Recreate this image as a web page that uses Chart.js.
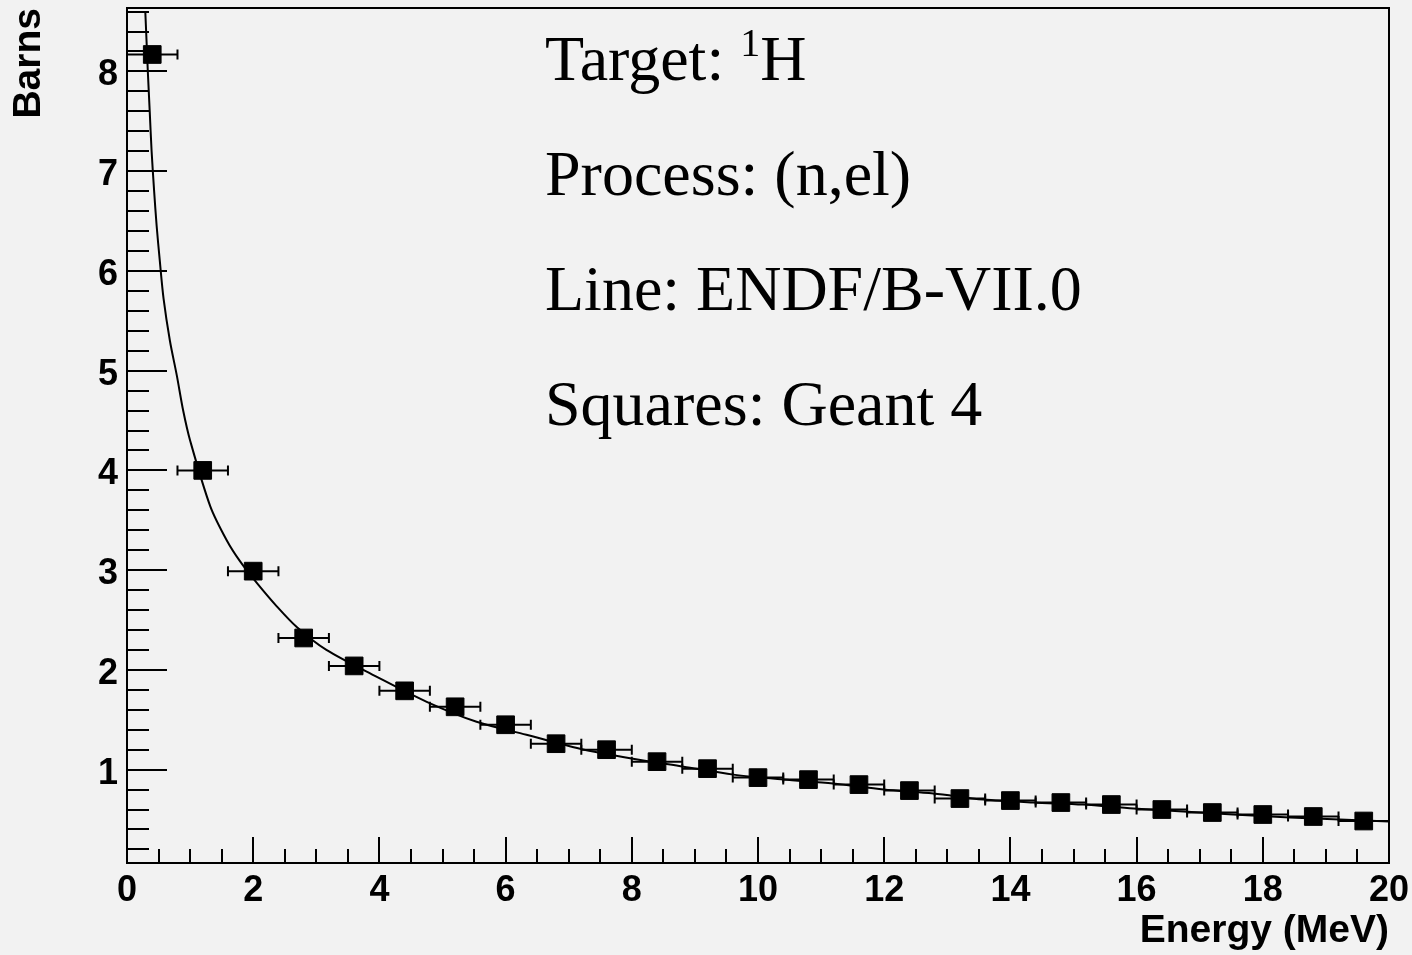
<!DOCTYPE html>
<html>
<head>
<meta charset="utf-8">
<title>Target 1H (n,el) cross section</title>
<script src="https://cdn.jsdelivr.net/npm/chart.js@4/dist/chart.umd.min.js"></script>
<style>
    html, body { margin: 0; padding: 0; background: #f2f2f2; }
    #wrap { width: 1412px; height: 955px; position: relative; }
</style>
</head>
<body>
<div id="wrap"><canvas id="xsChart"></canvas></div>
<script>
// Geant 4 squares (bin centres, MeV) and cross section (barns)
const binCenters = [0.4, 1.2, 2.0, 2.8, 3.6, 4.4, 5.2, 6.0, 6.8, 7.6, 8.4, 9.2, 10.0,
    10.8, 11.6, 12.4, 13.2, 14.0, 14.8, 15.6, 16.4, 17.2, 18.0, 18.8, 19.6];
const geantXsec = [8.17, 4.00, 2.99, 2.32, 2.04, 1.79, 1.63, 1.45, 1.26, 1.20, 1.08, 1.01, 0.92,
    0.90, 0.85, 0.79, 0.71, 0.69, 0.67, 0.65, 0.60, 0.57, 0.55, 0.53, 0.485];
const binHalfWidth = 0.4;

// ENDF/B-VII.0 line
const endfEnergy = [0.29, 0.31, 0.33, 0.36, 0.39, 0.43, 0.47, 0.52, 0.58, 0.68, 0.79, 0.89, 1.0,
    1.32, 1.58, 1.79, 2.06, 2.37, 2.69, 3.16, 3.96, 4.75, 5.54, 6.33, 7.18, 8.02, 8.82, 9.61,
    10.4, 11.19, 11.99, 12.78, 13.57, 14.36, 15.15, 15.95, 16.74, 17.53, 18.43, 19.22, 20.0];
const endfXsec = [8.6, 8.3, 8.0, 7.6, 7.2, 6.8, 6.45, 6.1, 5.72, 5.3, 4.95, 4.6, 4.30,
    3.64, 3.30, 3.09, 2.87, 2.64, 2.43, 2.20, 1.93, 1.68, 1.48, 1.35, 1.21, 1.11, 1.03, 0.95,
    0.90, 0.86, 0.80, 0.76, 0.70, 0.67, 0.65, 0.61, 0.58, 0.55, 0.52, 0.50, 0.48];

// axis ticks
const xTicks = [0, 2, 4, 6, 8, 10, 12, 14, 16, 18, 20];
const yTicks = [1, 2, 3, 4, 5, 6, 7, 8];

const notes = [
    ['Target: ', '1', 'H'],
    ['Process: (n,el)'],
    ['Line: ENDF/B-VII.0'],
    ['Squares: Geant 4']
];

const labelFont = { family: '"Liberation Sans", Arial, sans-serif', size: 36, weight: 'bold' };
const titleFont = { family: '"Liberation Sans", Arial, sans-serif', size: 39, weight: 'bold' };

// horizontal error bars with small caps
const errorBars = {
    id: 'errorBars',
    beforeDatasetsDraw(chart) {
        const ctx = chart.ctx;
        const xs = chart.scales.x, ys = chart.scales.y;
        ctx.save();
        ctx.strokeStyle = '#000';
        ctx.lineWidth = 2;
        binCenters.forEach((c, i) => {
            const y = ys.getPixelForValue(geantXsec[i]);
            const x0 = xs.getPixelForValue(c - binHalfWidth);
            const x1 = xs.getPixelForValue(c + binHalfWidth);
            ctx.beginPath();
            ctx.moveTo(x0, y); ctx.lineTo(x1, y);
            ctx.moveTo(x0, y - 5); ctx.lineTo(x0, y + 5);
            ctx.moveTo(x1, y - 5); ctx.lineTo(x1, y + 5);
            ctx.stroke();
        });
        ctx.restore();
    }
};

// ROOT-like frame with inside ticks, plus the text block
const frameAndNotes = {
    id: 'frameAndNotes',
    afterDraw(chart) {
        const ctx = chart.ctx;
        const a = chart.chartArea;
        const xs = chart.scales.x, ys = chart.scales.y;
        ctx.save();
        ctx.strokeStyle = '#000';
        ctx.lineWidth = 2;
        ctx.beginPath();
        for (let v = 0.5; v < 20; v += 0.5) {
            const px = Math.round(xs.getPixelForValue(v));
            const len = xTicks.includes(v) ? 26 : 14;
            ctx.moveTo(px, a.bottom); ctx.lineTo(px, a.bottom - len);
        }
        for (let k = 1; k <= 43; k++) {
            const v = k / 5;
            if (v < ys.min || v > ys.max) continue;
            const py = Math.round(ys.getPixelForValue(v));
            const len = (k % 5 === 0) ? 40 : 22;
            ctx.moveTo(a.left, py); ctx.lineTo(a.left + len, py);
        }
        ctx.stroke();
        ctx.strokeRect(a.left, a.top, a.right - a.left, a.bottom - a.top);

        ctx.fillStyle = '#000';
        ctx.textBaseline = 'alphabetic';
        ctx.textAlign = 'left';
        const big = '64px "Liberation Serif", "Times New Roman", serif';
        const small = '40px "Liberation Serif", "Times New Roman", serif';
        const baselines = [80, 194.5, 310, 425];
        notes.forEach((parts, i) => {
            let x = 545;
            const y = baselines[i];
            parts.forEach((p, j) => {
                const isSup = parts.length === 3 && j === 1;
                ctx.font = isSup ? small : big;
                ctx.fillText(p, x, isSup ? y - 24 : y);
                x += ctx.measureText(p).width;
            });
        });
        ctx.restore();
    }
};

const ctx = document.getElementById('xsChart').getContext('2d');
new Chart(ctx, {
    type: 'scatter',
    data: {
        datasets: [{
            label: 'Geant 4',
            data: binCenters.map((c, i) => ({ x: c, y: geantXsec[i] })),
            pointStyle: 'rect',
            pointRadius: 12.5,
            pointBackgroundColor: '#000',
            pointBorderColor: '#000',
            pointBorderWidth: 1,
            showLine: false,
            order: 0
        }, {
            label: 'ENDF/B-VII.0',
            data: endfEnergy.map((e, i) => ({ x: e, y: endfXsec[i] })),
            showLine: true,
            borderColor: '#000',
            borderWidth: 2,
            pointRadius: 0,
            tension: 0.3,
            order: 1
        }]
    },
    plugins: [errorBars, frameAndNotes],
    options: {
        responsive: true,
        maintainAspectRatio: false,
        animation: false,
        layout: { autoPadding: false, padding: { top: 8, right: 23, left: 0, bottom: 0 } },
        plugins: {
            legend: { display: false },
            tooltip: { enabled: false }
        },
        scales: {
            x: {
                type: 'linear',
                min: 0,
                max: 20,
                afterBuildTicks: s => { s.ticks = xTicks.map(v => ({ value: v })); },
                afterFit: s => { s.height = 92; s.paddingLeft = 0; s.paddingRight = 0; },
                grid: { display: false, drawTicks: false },
                border: { display: false },
                ticks: { color: '#000', font: labelFont, padding: 6, maxRotation: 0, autoSkip: false },
                title: {
                    display: true,
                    text: 'Energy (MeV)',
                    align: 'end',
                    color: '#000',
                    font: titleFont,
                    padding: { top: 0, bottom: 0 }
                }
            },
            y: {
                type: 'linear',
                min: 0.064,
                max: 8.636,
                afterBuildTicks: s => { s.ticks = yTicks.map(v => ({ value: v })); },
                afterFit: s => { s.width = 127; s.paddingTop = 0; s.paddingBottom = 0; },
                grid: { display: false, drawTicks: false },
                border: { display: false },
                ticks: { color: '#000', font: labelFont, padding: 9, labelOffset: 4, autoSkip: false },
                title: {
                    display: true,
                    text: 'Barns',
                    align: 'end',
                    color: '#000',
                    font: titleFont,
                    padding: { top: 6, bottom: 0 }
                }
            }
        }
    }
});
</script>
</body>
</html>
